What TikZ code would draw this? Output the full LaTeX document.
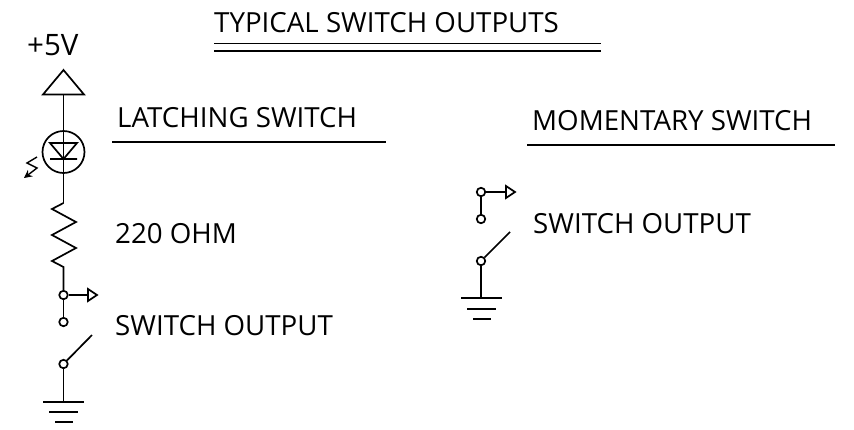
\documentclass[tikz,border=0pt]{standalone}
\usepackage{fontspec}
\setmainfont{Open Sans}
\usetikzlibrary{arrows.meta}
\tikzset{
  wire/.style={line width=1.7pt,black},
  lbl/.style={anchor=base west,inner sep=0pt,font=\fontsize{27.7}{30}\selectfont},
  term/.style={circle,draw,line width=1.7pt,fill=white,minimum size=8.5pt,inner sep=0pt},
}
\begin{document}
\begin{tikzpicture}[x=1pt,y=-1pt]
\useasboundingbox (0,0) rectangle (854,429);
% labels
\node[lbl] (title) at (214,32.5) {TYPICAL SWITCH OUTPUTS};
\node[lbl] (plus) at (27,55) {\fontsize{29.5}{30}\selectfont +5V};
\node[lbl] (latch) at (117,127.5) {LATCHING SWITCH};
\node[lbl] (mom) at (532,130) {MOMENTARY SWITCH};
\node[lbl] (ohm) at (115,243) {220 OHM};
\node[lbl] (out1) at (115,335.5) {SWITCH OUTPUT};
\node[lbl] (out2) at (533,233.5) {SWITCH OUTPUT};
% rules
\coordinate (t1a) at (214,43.5); \coordinate (t1b) at (601,43.5);
\coordinate (t2a) at (214,51); \coordinate (t2b) at (601,51);
\coordinate (la) at (112,142); \coordinate (lb) at (386,142);
\coordinate (ma) at (527,145); \coordinate (mb) at (835,145);
\draw[wire] (t1a)--(t1b) (t2a)--(t2b) (la)--(lb) (ma)--(mb);
% supply
\coordinate (apex) at (63.5,70); \coordinate (bl) at (43,94.5); \coordinate (br) at (84,94.5); \coordinate (bm) at (63.5,94.5);
\draw[wire,line join=miter] (apex)--(br)--(bl)--cycle;
% LED
\node[circle,draw,line width=1.7pt,minimum size=42pt,inner sep=0pt,outer sep=0pt] (led) at (63.5,152) {};
\coordinate (dl) at (50,143); \coordinate (dr) at (77,143); \coordinate (da) at (63.5,159);
\coordinate (bal) at (50,159); \coordinate (bar) at (77,159);
\draw[wire] (dl)--(dr)--(da)--cycle (bal)--(bar);
\coordinate (rtop) at (63.5,203);
\draw[wire] (bm)--(rtop);
% light arrow
\coordinate (z1) at (37,157); \coordinate (z2) at (27,163); \coordinate (z3) at (37,168); \coordinate (z4) at (24,178);
\draw[line width=1.4pt,-{Stealth[length=8pt,width=8pt]}] (z1)--(z2)--(z3)--(z4);
% resistor
\coordinate (r1) at (52,209); \coordinate (r2) at (76,222); \coordinate (r3) at (52,235); \coordinate (r4) at (76,248); \coordinate (r5) at (52,261); \coordinate (rbot) at (63.5,267);
\node[term] (j1) at (63.5,295) {};
\node[term] (c1) at (63.5,322) {};
\draw[wire,line join=miter] (rtop)--(r1)--(r2)--(r3)--(r4)--(r5)--(rbot)--(j1);
\draw[wire] (j1)--(c1);
% output arrow 1
\coordinate (a1) at (88,295); \coordinate (a1t) at (88,289); \coordinate (a1b) at (88,301); \coordinate (a1p) at (97,295);
\draw[wire] (j1)--(a1);
\draw[wire] (a1t)--(a1p)--(a1b)--cycle;
% switch 1
\node[term] (s1) at (63.5,364) {};
\coordinate (l1) at (92,335);
\draw[wire] (s1)--(l1);
\coordinate (g1) at (63.5,402);
\draw[wire] (s1)--(g1);
\coordinate (g1a) at (43,402); \coordinate (g1b) at (84,402);
\coordinate (g1c) at (49,412); \coordinate (g1d) at (78,412);
\coordinate (g1e) at (55,422); \coordinate (g1f) at (73,422);
\draw[wire] (g1a)--(g1b) (g1c)--(g1d) (g1e)--(g1f);
% momentary
\node[term] (j2) at (481,192) {};
\node[term] (c2) at (481,219) {};
\draw[wire] (j2)--(c2);
\coordinate (a2) at (506,192); \coordinate (a2t) at (506,186); \coordinate (a2b) at (506,198); \coordinate (a2p) at (515,192);
\draw[wire] (j2)--(a2);
\draw[wire] (a2t)--(a2p)--(a2b)--cycle;
\node[term] (s2) at (481,261) {};
\coordinate (l2) at (510,232);
\draw[wire] (s2)--(l2);
\coordinate (g2) at (481,298);
\draw[wire] (s2)--(g2);
\coordinate (g2a) at (461,298); \coordinate (g2b) at (502,298);
\coordinate (g2c) at (467,309); \coordinate (g2d) at (496,309);
\coordinate (g2e) at (473,319); \coordinate (g2f) at (491,319);
\draw[wire] (g2a)--(g2b) (g2c)--(g2d) (g2e)--(g2f);
\end{tikzpicture}
\end{document}
